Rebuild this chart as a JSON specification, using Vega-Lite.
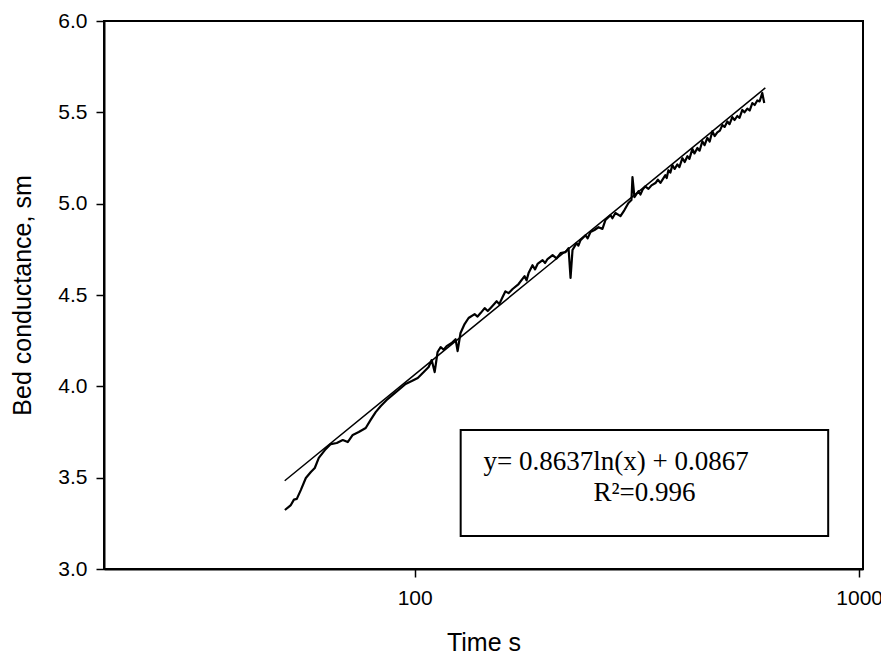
{
  "$schema": "https://vega.github.io/schema/vega-lite/v6.json",
  "width": 759,
  "height": 548,
  "autosize": {"type": "none"},
  "padding": {"left": 104, "top": 21, "right": 18, "bottom": 86},
  "background": "white",
  "config": {
    "view": {"stroke": "black", "strokeWidth": 2},
    "axis": {
      "grid": false,
      "domainColor": "black",
      "domainWidth": 2,
      "tickColor": "black",
      "tickWidth": 1.5,
      "tickSize": 8,
      "labelColor": "black",
      "labelFont": "Liberation Sans",
      "labelFontSize": 21,
      "titleColor": "black",
      "titleFont": "Liberation Sans",
      "titleFontSize": 25,
      "titleFontWeight": "normal"
    }
  },
  "datasets": {
    "measured": [
      {"t": 51.05, "v": 3.323}, {"t": 52.65, "v": 3.35}, {"t": 53.5, "v": 3.38}, {"t": 54.3, "v": 3.384}, {"t": 55.43, "v": 3.432},
      {"t": 56.9, "v": 3.498}, {"t": 58.4, "v": 3.531}, {"t": 59.6, "v": 3.553}, {"t": 60.85, "v": 3.608},
      {"t": 62.8, "v": 3.651}, {"t": 64.75, "v": 3.684}, {"t": 66.8, "v": 3.69}, {"t": 68.9, "v": 3.706},
      {"t": 70.7, "v": 3.695}, {"t": 72.55, "v": 3.734}, {"t": 74.85, "v": 3.75}, {"t": 77.6, "v": 3.772},
      {"t": 79.6, "v": 3.816}, {"t": 81.7, "v": 3.859}, {"t": 83.9, "v": 3.892}, {"t": 86.5, "v": 3.925},
      {"t": 89.2, "v": 3.953}, {"t": 92.0, "v": 3.98}, {"t": 95.4, "v": 4.013}, {"t": 98.5, "v": 4.029},
      {"t": 101.6, "v": 4.046}, {"t": 104.8, "v": 4.078}, {"t": 107.5, "v": 4.106}, {"t": 109.2, "v": 4.144},
      {"t": 110.9, "v": 4.078}, {"t": 112.6, "v": 4.188}, {"t": 114.4, "v": 4.215}, {"t": 116.2, "v": 4.2}, {"t": 118.0, "v": 4.22},
      {"t": 121.1, "v": 4.237}, {"t": 123.6, "v": 4.258}, {"t": 124.9, "v": 4.193}, {"t": 126.8, "v": 4.292},
      {"t": 129.5, "v": 4.341}, {"t": 132.2, "v": 4.374}, {"t": 136.4, "v": 4.395}, {"t": 138.5, "v": 4.382}, {"t": 140.7, "v": 4.401},
      {"t": 143.7, "v": 4.428}, {"t": 146.0, "v": 4.412}, {"t": 148.2, "v": 4.429}, {"t": 152.9, "v": 4.466}, {"t": 155.0, "v": 4.45}, {"t": 157.7, "v": 4.489},
      {"t": 160.0, "v": 4.52}, {"t": 162.6, "v": 4.51}, {"t": 166.1, "v": 4.533}, {"t": 171.3, "v": 4.56}, {"t": 176.7, "v": 4.603},
      {"t": 178.5, "v": 4.58}, {"t": 180.4, "v": 4.62}, {"t": 184.1, "v": 4.663}, {"t": 186.5, "v": 4.64}, {"t": 189.0, "v": 4.67}, {"t": 194.0, "v": 4.691},
      {"t": 196.5, "v": 4.675}, {"t": 199.0, "v": 4.697}, {"t": 204.3, "v": 4.718}, {"t": 208.5, "v": 4.7}, {"t": 212.9, "v": 4.729},
      {"t": 218.5, "v": 4.735}, {"t": 221.9, "v": 4.756}, {"t": 224.2, "v": 4.593}, {"t": 226.5, "v": 4.746},
      {"t": 231.2, "v": 4.784}, {"t": 233.5, "v": 4.77}, {"t": 236.1, "v": 4.8}, {"t": 242.3, "v": 4.827}, {"t": 245.0, "v": 4.81}, {"t": 248.6, "v": 4.845},
      {"t": 253.8, "v": 4.856}, {"t": 259.1, "v": 4.871}, {"t": 264.5, "v": 4.862}, {"t": 268.7, "v": 4.911},
      {"t": 275.7, "v": 4.937}, {"t": 278.5, "v": 4.92}, {"t": 282.9, "v": 4.949}, {"t": 290.4, "v": 4.932}, {"t": 296.4, "v": 4.965},
      {"t": 302.6, "v": 5.004}, {"t": 307.4, "v": 5.02}, {"t": 309.0, "v": 5.146}, {"t": 312.2, "v": 5.036},
      {"t": 318.7, "v": 5.068}, {"t": 322.0, "v": 5.05}, {"t": 325.4, "v": 5.075}, {"t": 330.0, "v": 5.095}, {"t": 335.7, "v": 5.081}, {"t": 341.0, "v": 5.1}, {"t": 348.1, "v": 5.113},
      {"t": 352.5, "v": 5.132}, {"t": 357.2, "v": 5.114}, {"t": 366.4, "v": 5.156}, {"t": 369.0, "v": 5.14}, {"t": 372.2, "v": 5.183}, {"t": 376.0, "v": 5.17}, {"t": 380.0, "v": 5.211},
      {"t": 384.5, "v": 5.19}, {"t": 389.9, "v": 5.215}, {"t": 394.0, "v": 5.2}, {"t": 400.2, "v": 5.249}, {"t": 405.0, "v": 5.228}, {"t": 410.7, "v": 5.26}, {"t": 415.0, "v": 5.245}, {"t": 421.5, "v": 5.3},
      {"t": 426.0, "v": 5.275}, {"t": 432.5, "v": 5.305}, {"t": 437.5, "v": 5.29}, {"t": 443.8, "v": 5.342}, {"t": 449.0, "v": 5.32}, {"t": 455.4, "v": 5.36}, {"t": 461.0, "v": 5.34}, {"t": 467.4, "v": 5.397},
      {"t": 473.0, "v": 5.37}, {"t": 479.6, "v": 5.39}, {"t": 486.0, "v": 5.4}, {"t": 492.2, "v": 5.43}, {"t": 498.0, "v": 5.42}, {"t": 505.1, "v": 5.45}, {"t": 511.0, "v": 5.435}, {"t": 518.3, "v": 5.474},
      {"t": 524.5, "v": 5.458}, {"t": 531.8, "v": 5.48}, {"t": 538.0, "v": 5.47}, {"t": 545.9, "v": 5.513}, {"t": 552.0, "v": 5.5}, {"t": 560.2, "v": 5.52}, {"t": 567.0, "v": 5.51}, {"t": 574.9, "v": 5.551},
      {"t": 582.0, "v": 5.54}, {"t": 589.9, "v": 5.565}, {"t": 597.0, "v": 5.56}, {"t": 605.3, "v": 5.606}, {"t": 611.6, "v": 5.551}
    ],
    "fit": [
      {"t": 51, "v": 3.483}, {"t": 100, "v": 4.064}, {"t": 200, "v": 4.663}, {"t": 400, "v": 5.262}, {"t": 615, "v": 5.634}
    ],
    "box": [
      {"t": 126.9, "t2": 851.7, "v": 3.761, "v2": 3.181}
    ],
    "labels": [
      {"t": 142.9, "v": 3.542, "text": "y= 0.8637ln(x) + 0.0867"},
      {"t": 252.5, "v": 3.372, "text": "R²=0.996"}
    ]
  },
  "encoding": {
    "x": {
      "field": "t",
      "type": "quantitative",
      "scale": {"type": "log", "domain": [20, 1020], "nice": false},
      "axis": {"values": [100, 1000], "format": "d", "title": "Time s", "labelPadding": 10, "titlePadding": 22}
    },
    "y": {
      "field": "v",
      "type": "quantitative",
      "scale": {"domain": [3, 6], "nice": false, "zero": false},
      "axis": {"values": [3, 3.5, 4, 4.5, 5, 5.5, 6], "format": ".1f", "title": "Bed conductance, sm", "labelPadding": 9, "titlePadding": 22}
    }
  },
  "layer": [
    {
      "data": {"name": "box"},
      "mark": {"type": "rect", "fill": "white", "stroke": "black", "strokeWidth": 2},
      "encoding": {"x2": {"field": "t2"}, "y2": {"field": "v2"}}
    },
    {
      "data": {"name": "measured"},
      "mark": {"type": "line", "color": "black", "strokeWidth": 2.2, "strokeJoin": "round"}
    },
    {
      "data": {"name": "fit"},
      "mark": {"type": "line", "color": "black", "strokeWidth": 1.5}
    },
    {
      "data": {"name": "labels"},
      "mark": {"type": "text", "font": "Liberation Serif", "fontSize": 27, "align": "left", "baseline": "alphabetic", "color": "black"},
      "encoding": {"text": {"field": "text"}}
    }
  ]
}
